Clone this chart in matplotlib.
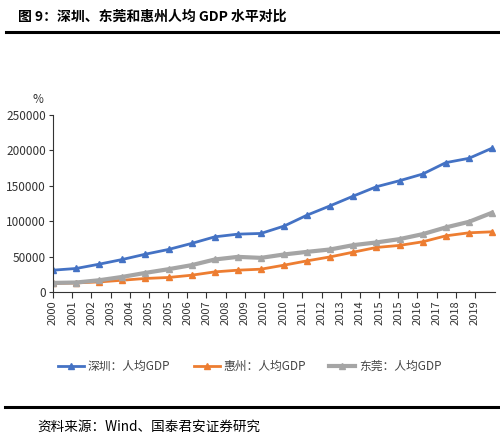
import numpy as np
import matplotlib.pyplot as plt

plt.rcParams['font.family'] = ['Noto Sans CJK SC', 'DejaVu Sans']

# Data (yuan per person)
years = list(range(2000, 2020))
shenzhen = [30700, 33100, 39200, 45800, 53300, 60000, 68500, 77800, 81600, 82600,
            93000, 108500, 121700, 135400, 148600, 157100, 166500, 182600, 188700, 203000]
huizhou = [11900, 12700, 14100, 16500, 19000, 20400, 23600, 28300, 30700, 32100,
           37800, 43900, 49500, 56200, 62800, 65700, 70800, 79200, 83500, 84900]
dongguan = [12700, 13300, 16500, 21200, 26900, 32100, 37800, 45800, 49500, 48100,
            52900, 56600, 60000, 66100, 69900, 74600, 81600, 91100, 99000, 111800]
# Excel date axis: major unit a bit shorter than one year
tick_labels = ["2000", "2001", "2002", "2003", "2004", "2005", "2005", "2006", "2007",
               "2008", "2009", "2010", "2010", "2011", "2012", "2013", "2014", "2015",
               "2015", "2016", "2017", "2018", "2019"]

fig = plt.figure(figsize=[5.0, 4.37], dpi=100)

# Title and rules
fig.text(0.036, 0.962, "图 9：深圳、东莞和惠州人均 GDP 水平对比", fontsize=10,
         fontweight='bold', va='center', ha='left')
fig.add_artist(plt.Line2D([0.012, 1.0], [0.927, 0.927], color='black', lw=2.2))
fig.add_artist(plt.Line2D([0.01, 1.0], [0.068, 0.068], color='black', lw=2.2))
fig.text(0.074, 0.023, "资料来源：Wind、国泰君安证券研究", fontsize=9.8, va='center', ha='left')

ax = fig.add_axes([0.106, 0.332, 0.884, 0.405])
ax.plot(years, shenzhen, color='#4472C4', lw=2.0, marker='^', ms=5, label='深圳：人均GDP')
ax.plot(years, huizhou, color='#ED7D31', lw=2.0, marker='^', ms=5, label='惠州：人均GDP')
ax.plot(years, dongguan, color='#A5A5A5', lw=3.0, marker='^', ms=5, label='东莞：人均GDP')

ax.set_xlim(2000, 2019.13)
ax.set_ylim(0, 250000)
tick_pos = 2000 + np.arange(len(tick_labels)) * 303 / 365
ax.set_xticks(tick_pos)
ax.set_xticklabels(tick_labels, rotation=90, fontsize=8, color='#333333')
ax.set_yticks(np.arange(0, 250001, 50000))
ax.set_yticklabels([str(v) for v in range(0, 250001, 50000)], fontsize=8.5, color='#333333')
ax.tick_params(axis='x', direction='out', length=4, width=0.8, color='#333333', pad=2)
ax.tick_params(axis='y', direction='out', length=3, width=0.8, color='#333333', pad=2)
ax.spines[['right', 'top']].set_visible(False)
ax.spines['left'].set_color('#333333')
ax.spines['bottom'].set_color('#333333')
ax.text(-0.035, 1.065, "%", transform=ax.transAxes, fontsize=8.5, color='#333333', ha='center')

ax.legend(loc='center', bbox_to_anchor=(0.445, -0.42), ncol=3, frameon=False, fontsize=8.5,
          handlelength=2.2, columnspacing=2.0, handletextpad=0.3, labelcolor='#444444')

fig.savefig("out.png", dpi=100)
plt.close()
